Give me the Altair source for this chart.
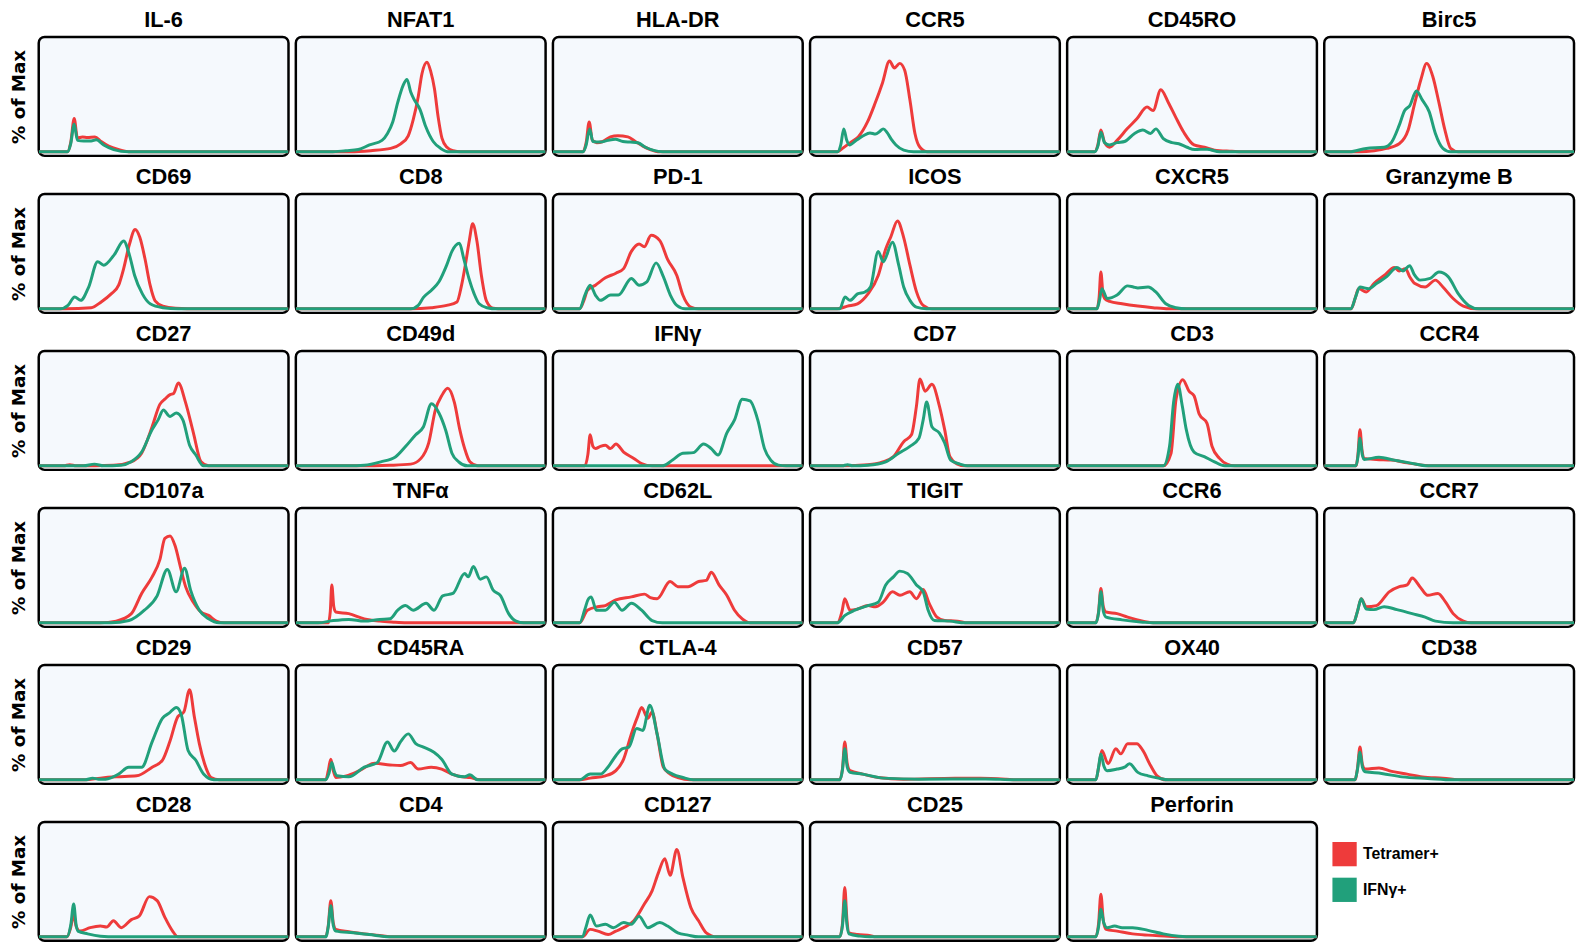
import altair as alt
import pandas as pd

MARKERS = ["IL-6", "NFAT1", "HLA-DR", "CCR5", "CD45RO", "Birc5",
           "CD69", "CD8", "PD-1", "ICOS", "CXCR5", "Granzyme B",
           "CD27", "CD49d", "IFNγ", "CD7", "CD3", "CCR4",
           "CD107a", "TNFα", "CD62L", "TIGIT", "CCR6", "CCR7",
           "CD29", "CD45RA", "CTLA-4", "CD57", "OX40", "CD38",
           "CD28", "CD4", "CD127", "CD25", "Perforin"]
SERIES = ["Tetramer+", "IFNγ+"]
COLORS = ["#EE3B3B", "#21A07B"]

# (x position in % of panel width, height in % of panel height above baseline)
IL6_TET = [(0,0),(11.5,0),(12.8,8),(14.2,29),(15.5,12),(17.5,13),(19.5,12.5),(22.5,13),(25,9),(28,5),(32,2),(37,0),(100,0)]
IL6_IFN = [(0,0),(11.5,0),(12.8,7),(14.2,24),(15.5,10),(18,9.5),(21,9.5),(23,10.5),(26,6),(30,2),(36,0),(100,0)]
NFAT1_TET = [(0,0),(22,0),(30,1),(38,3),(42,7),(45,14),(47,28),(49,48),(50.5,68),(52.5,78),(54,70),(55.5,55),(57,30),(58.5,12),(60.5,4),(63,1),(66,0),(100,0)]
NFAT1_IFN = [(0,0),(14,0),(20,1),(25,2),(29.5,6),(34.5,10),(36.7,16),(38.8,26),(40.8,43),(43,58),(44.5,63),(46,52),(47.5,45),(49.7,37),(52,22),(55,9),(58,3),(61.5,0),(100,0)]
HLADR_TET = [(0,0),(12,0),(13.3,8),(14.5,26),(15.8,10),(17.5,8),(20,9),(23,13),(26,14),(30,13),(33,9),(36,5),(39,2),(42,0),(100,0)]
HLADR_IFN = [(0,0),(12,0),(13.3,6),(14.7,20),(16,9),(19,8.5),(22,10),(25,11),(28,9),(31,8.5),(34,8),(37,4),(40,1.5),(44,0),(100,0)]
CCR5_TET = [(0,0),(11,0),(13,3),(16.4,8.5),(19.3,13),(23,26),(26,42),(29,60),(31.8,79),(33.8,73),(35.9,77),(37.9,71),(40,45),(42,16),(44,4),(47,0),(100,0)]
CCR5_IFN = [(0,0),(11,0),(12.3,6),(13.5,20),(14.7,10),(15.8,6),(18.5,10),(21.3,14),(24,16.5),(26.2,15.5),(28,18),(29.3,20),(30.8,17),(32.5,11),(34.4,6),(37.5,1.5),(41.5,0),(100,0)]
CD45RO_TET = [(0,0),(11,0),(12.3,6),(13.5,19),(15,8),(17,4),(20,10),(24,20),(28,29),(32,39),(34.4,36),(37.5,54),(40.5,43),(43.5,30),(46.7,17),(50.8,6),(55,4),(59,1.5),(66,0.5),(70,0),(100,0)]
CD45RO_IFN = [(0,0),(11,0),(12.3,5),(13.5,17),(15,8),(17,6),(20,8),(23,9),(27,16),(30.3,19),(33.4,16),(35.5,20),(38.5,11.5),(42,8),(44.7,7),(48,4),(51,2),(56,2.3),(61,0),(100,0)]
BIRC5_TET = [(0,0),(14,0),(20,1),(25,3),(30,7),(33.6,19),(36.3,43),(38.7,63),(41,77),(43.4,66),(45.9,43),(48.2,20),(50.6,3),(53.7,0),(100,0)]
BIRC5_IFN = [(0,0),(10,0),(16.8,3),(24,4),(27,8.5),(30,23),(32.2,36),(34.2,40),(36.9,53),(39.3,45),(42,35),(44.5,16),(47.5,3),(50.6,0),(100,0)]

CD69_TET = [(0,0),(10.7,0),(21,1),(25,6),(29,13),(32,20.6),(34,35),(36.3,56),(38.6,69),(40.5,62),(42.5,44),(44.6,20.6),(46.6,7),(49.7,2.4),(54.8,0.6),(64,0),(100,0)]
CD69_IFN = [(0,0),(8.6,0),(11.7,3),(14.4,10.3),(16.8,7.4),(20,19),(23.6,41),(26,38),(30.2,47),(34,59),(36.3,47),(38.4,29),(41.5,13),(44.6,4.4),(49.7,1),(55.8,0),(100,0)]
CD8_TET = [(0,0),(46,0),(54.2,1),(60.4,3),(64.5,6),(66.3,20),(68,40),(69.5,60),(70.8,74),(72.5,59),(74.3,29),(76.3,7),(79,0.6),(83,0),(100,0)]
CD8_IFN = [(0,0),(46,0),(49,3),(51.1,10),(54.2,16),(57.3,23.5),(60.4,38),(62.5,50),(65.5,57),(67.2,44),(69.3,26.5),(71.4,13),(73.4,4.4),(76.5,1),(80.5,0),(100,0)]
PD1_TET = [(0,0),(10.7,0),(12.5,8),(13.8,16),(17,20.6),(21,27),(25.2,31),(28.3,35),(31.4,50),(34.5,56.5),(36.6,54),(39.3,64),(42.8,59.4),(45.9,43),(49.6,29),(52,12),(55.2,1.5),(58.3,0),(100,0)]
PD1_IFN = [(0,0),(10.7,0),(12.8,12),(14.9,20.6),(17,12),(19,7.4),(23.1,12),(26.2,12),(31.4,26.5),(34.5,20.6),(37.6,23.5),(41.3,40),(44.2,28),(47,12),(49.6,3),(53,0),(100,0)]
ICOS_TET = [(0,0),(10.9,0),(15,2.4),(19,4.4),(23.2,13),(27.3,29),(30.3,52),(32.4,63),(35,76.5),(37.5,62),(40,38),(42.6,15),(45.3,3),(48.8,0),(100,0)]
ICOS_IFN = [(0,0),(11.9,0),(14,10.3),(16,7.4),(19,13),(22,14.7),(24.2,19),(27.3,50),(29.3,41),(33,58),(35.5,38),(37.5,19),(40,7.4),(42.6,1.5),(46.7,0),(100,0)]
CXCR5_TET = [(0,0),(11.9,0),(12.8,10),(13.5,32),(14.3,14),(15,9),(17,6.5),(22,4.4),(28.3,2.4),(34.4,1),(40.6,0),(100,0)]
CXCR5_IFN = [(0,0),(11.9,0),(13,8),(13.9,17.6),(16,9),(20,12),(24.2,20),(26.5,19),(28.3,18.2),(32.4,19),(35.5,14.7),(39.5,4.4),(43.6,1),(47.7,0),(100,0)]
GRZB_TET = [(0,0),(10.7,0),(12.5,10),(13.7,17.6),(16.8,14.7),(19.9,22),(24,29),(28.1,36),(30,33),(32.5,35),(34.2,28),(36.3,22),(40.4,19),(44.5,25),(47.5,19),(51.6,9),(55.7,2.4),(60.9,0),(100,0)]
GRZB_IFN = [(0,0),(10.7,0),(12.5,10),(14.3,19),(17.8,17.6),(20.9,22),(25,28),(29.1,36),(31.5,33),(34.2,37.6),(36,30),(38.3,25),(42.4,26.5),(45.9,32),(49.6,28),(53.7,13),(57.8,3),(61.9,0),(100,0)]

CD27_TET = [(0,0),(10,0),(12.4,1),(15,0),(30,0.5),(37,3.5),(41.2,11),(45.4,34),(48.5,53.5),(50.5,58),(52.6,62),(54,63),(55.9,72),(58.8,55),(61.9,29),(65,3.5),(68,0),(100,0)]
CD27_IFN = [(0,0),(18,0),(22.3,1.5),(26,0),(33,0.5),(37,3.5),(41.2,12),(45.4,31.5),(47.8,40),(49.9,48.5),(52.6,43),(55.1,46),(57.7,40),(60.4,18),(62.9,9.4),(66,0),(100,0)]
CD49D_TET = [(0,0),(25.4,0),(37.7,0.5),(46,1.5),(50.1,6.5),(53.2,20),(55.9,49),(58.4,61),(60.8,67.5),(63.5,55),(65.6,32),(67.6,15),(69.7,3.5),(72.8,0),(100,0)]
CD49D_IFN = [(0,0),(21.2,0),(27.4,0.5),(34,3.5),(40,8),(44,17),(48,27),(51.1,34),(54.3,54),(57.3,46),(60,31),(62.5,11),(65.2,3.5),(68.7,0),(100,0)]
IFNG_TET = [(0,0),(12.8,0),(14,10),(14.9,27),(16,17),(17,15),(19,17),(21,18),(23,15),(25.2,19),(28.3,12),(32.4,6.5),(35.5,2),(39.7,0),(100,0)]
IFNG_IFN = [(0,0),(43.8,0),(47.9,5),(52,11),(56.2,11.5),(60.3,19),(63.4,15),(66.1,9.4),(69.6,28.5),(72.7,40),(75.8,58),(78.9,56.5),(82,40),(84.7,15),(87.2,5),(90.3,0.6),(93.4,0),(100,0)]
CD7_TET = [(0,0),(12.9,0),(23.2,1),(29.1,3.5),(33.4,8),(37.5,21),(40.6,27),(42.6,52),(44,75.6),(46.1,65),(48.8,71),(51.8,52),(53.9,31.5),(56,8),(59,1.5),(62,0),(100,0)]
CD7_IFN = [(0,0),(12.9,0),(15,1),(17,0),(23.2,0.5),(30.3,3.5),(35.5,11),(40,17),(43.6,24),(45.3,40),(46.7,55.6),(48.8,34),(51.8,28.5),(53.9,20),(56.3,5),(60,1.5),(63,0),(100,0)]
CD3_TET = [(0,0),(38.5,0),(41.6,11),(43.6,58),(46.3,75),(48.8,65),(50.8,61),(52.9,45),(56,37),(58,17),(61,6.5),(64,1.5),(67,0),(100,0)]
CD3_IFN = [(0,0),(38.5,0),(41,17),(42.6,55),(44.3,71),(46.1,52),(47.7,31.5),(50.8,12),(54.9,8),(59,3.5),(63,0),(100,0)]
CCR4_TET = [(0,0),(12.7,0),(13.5,10),(14.3,31.5),(15.1,14),(15.8,6.5),(20.9,5.6),(27,5),(33.2,2.6),(39.3,0.6),(43.4,0),(100,0)]
CCR4_IFN = [(0,0),(12.7,0),(13.5,8),(14.3,24),(15.2,10),(16,5.6),(21.9,7.4),(28,5),(34.2,2.6),(41.4,0),(100,0)]

CD107A_TET = [(0,0),(24.7,0),(31,1.5),(37.1,8),(41.2,25.6),(45.4,40),(48.5,55),(50.5,73.5),(52.6,75.6),(54.6,67),(56.7,49),(58.8,31.5),(61.9,18),(65,9.4),(68,6.5),(71.1,1.5),(74.2,0),(100,0)]
CD107A_IFN = [(0,0),(28.9,0),(36.1,2),(42.3,11),(47.4,23.5),(51.5,46.5),(55,27),(58.4,47.6),(60.8,28.5),(64.3,11),(68,3.5),(72.2,0),(100,0)]
TNFA_TET = [(0,0),(13,0),(13.8,10),(14.4,33),(15.2,14),(16,9.4),(21.2,8),(27.4,3.5),(33.6,1.5),(39.8,0.6),(45,0),(100,0)]
TNFA_IFN = [(0,0),(8.9,0),(15,2),(21.2,3),(27.4,1.5),(33.6,3),(37.7,3.5),(40.8,11),(43.9,15),(47,11),(52.2,17),(55.3,11),(58.8,23.5),(62.9,25.6),(67.6,43),(69,40),(71.1,49),(73.8,38),(76.3,40),(79,28.5),(82,23.5),(85.2,8),(88.2,1.5),(91.3,0),(100,0)]
CD62L_TET = [(0,0),(10.7,0),(13.8,11),(17.9,14),(21,15),(25.2,20),(31.4,22.6),(36.6,25),(39,22),(41.7,21),(46.9,36),(50,31.5),(54.1,31.5),(58.3,36),(61.4,37),(63.4,44),(66.5,33),(69.6,24),(72.7,11),(75.8,3.5),(79,0),(100,0)]
CD62L_IFN = [(0,0),(10.7,0),(12.8,12),(14,20),(15.3,22.6),(17.4,11),(21,11),(24.6,18),(27.7,11),(31.4,17),(35.5,11),(39.7,2),(43.8,0),(100,0)]
TIGIT_TET = [(0,0),(10.9,0),(12.8,10),(13.9,21),(16,11),(19,12),(23.2,15),(26.2,14),(29.3,18),(33,27),(36,24),(39.9,27),(42.6,21),(45.3,29),(47.7,17),(50.8,5),(53.9,2),(59,1.5),(63,0),(100,0)]
TIGIT_IFN = [(0,0),(10.9,0),(14,6.5),(18,11),(23.2,15),(27.3,18),(30.3,33),(33.4,40),(35.9,45),(39,43),(42.6,33),(45.3,27),(47.3,11),(49.8,2),(56,1.5),(62,0),(100,0)]
CCR6_TET = [(0,0),(11.5,0),(12.6,10),(13.5,30),(14.5,14),(15.6,9.4),(20,8),(24.2,5),(30.3,1.5),(34.4,0),(100,0)]
CCR6_IFN = [(0,0),(11.5,0),(12.6,9),(13.5,27),(14.5,10),(15.6,5),(22,2.6),(30.3,0.6),(34.4,0),(100,0)]
CCR7_TET = [(0,0),(11.7,0),(13.3,10),(14.8,21),(16.8,14),(20.9,15),(26,27),(30.1,31.5),(33.2,33),(35.2,39),(38.3,31.5),(41.4,24),(45.5,25.6),(48.6,18),(51.6,8),(55.7,1.5),(58.8,0),(100,0)]
CCR7_IFN = [(0,0),(11.7,0),(13.3,10),(14.8,21),(16.8,12),(19.9,11.5),(24,14),(29.1,11.5),(35.2,8),(40.4,5),(44.5,1.5),(51.6,0),(100,0)]

CD29_TET = [(0,0),(18.6,0),(24.7,1.5),(31,2.6),(39.2,3.5),(45.4,11),(49.5,17),(52.6,34),(55.7,55),(58.1,59),(60.4,78.5),(62.3,55),(64.3,31.5),(66.4,14),(69,2),(72.2,0),(100,0)]
CD29_IFN = [(0,0),(18.6,0),(21.6,1.5),(24,0.5),(26.8,0.6),(32,5),(36,11),(41.2,11),(45.4,33),(49.5,53.5),(52.2,58),(55.1,63),(57.1,56.5),(59.8,25.6),(62.9,17),(66,5),(70.1,0),(100,0)]
CD45RA_TET = [(0,0),(12,0),(13,8),(14,18),(15,8),(16,2),(20.2,3.5),(25.4,8),(31.5,14.4),(37.7,13),(41.9,12.4),(46,15),(49,9.4),(54.2,11),(58.4,9.4),(62.5,5),(66.6,2.6),(69.7,2),(73.8,0),(100,0)]
CD45RA_IFN = [(0,0),(12,0),(13.3,6),(14.4,15),(15.5,7),(16.5,3.5),(21.2,2.6),(27.4,11),(32.6,15),(36.7,33),(39.4,25),(41.9,33),(45,40),(48,31.5),(51.1,28.5),(55.3,24),(58.4,18),(62.5,5),(67.6,2.6),(69.7,4.4),(72.8,0),(100,0)]
CTLA4_TET = [(0,0),(10.7,0),(14.9,1.5),(21,3.5),(25.2,8),(28.3,18),(31.4,40),(33.9,55),(35.5,63),(38,53.5),(39.7,59),(41.7,40),(44.2,11),(46.9,5),(50,2),(55.2,0),(100,0)]
CTLA4_IFN = [(0,0),(10.7,0),(14.9,5),(19,5),(22,11),(25.2,21),(27.7,27),(30.4,28.5),(33.5,44.7),(36,43),(38.8,65),(41.7,40),(44.8,9.4),(47.9,5),(52,2),(56.2,0),(100,0)]
CD57_TET = [(0,0),(11.9,0),(13,10),(13.9,33),(14.9,14),(16,8),(21.1,5),(27.3,2),(37.5,0.6),(58,1.5),(68.2,1.5),(78.5,0.6),(82.6,0),(100,0)]
CD57_IFN = [(0,0),(11.9,0),(13,9),(13.9,27),(14.9,11),(16,6.5),(21.1,5),(29.3,1.5),(43.6,0.6),(70.3,0.8),(82,0),(100,0)]
OX40_TET = [(0,0),(11.5,0),(12.7,12),(13.9,25.6),(16.4,14),(19.5,27),(21.5,22.6),(24.2,31.5),(27.9,31.5),(30.3,25.6),(33.4,12.4),(36,3.5),(39.5,0),(100,0)]
OX40_IFN = [(0,0),(11.5,0),(12.5,10),(13.5,22.6),(14.7,12),(16,8),(20,9.4),(23,11),(25,14),(28.3,6.5),(32.4,3.5),(36.5,1.5),(40.6,0),(100,0)]
CD38_TET = [(0,0),(12.3,0),(13.3,10),(14.3,28.5),(15.3,13),(16.4,9.4),(21.9,10.3),(27,7.4),(33.2,5),(39.3,2.6),(47.5,1.5),(55.7,0),(100,0)]
CD38_IFN = [(0,0),(12.3,0),(13.3,9),(14.3,24),(15.3,11),(16.4,7),(23,5.6),(31.1,2.6),(41.4,1.2),(51.6,0),(100,0)]

CD28_TET = [(0,0),(11.3,0),(12.8,8),(14,19.7),(15,9),(16.5,5),(20.6,8),(24.7,9.4),(27.2,8.5),(29.9,14),(33,8),(37.1,15),(40.2,18),(44.3,35),(47.4,31.5),(50.5,17),(53.6,5),(55.7,0),(100,0)]
CD28_IFN = [(0,0),(11.3,0),(12.8,10),(14,28.5),(15,10),(15.7,5),(19.6,2.6),(24.7,0.6),(30.9,0),(100,0)]
CD4_TET = [(0,0),(12,0),(13,10),(14,31.5),(15,12),(16,6.5),(21.2,4.4),(27.4,2.6),(33.6,1.2),(37.7,0),(100,0)]
CD4_IFN = [(0,0),(12,0),(13,9),(14,27),(15,10),(16,5),(23,3.5),(29.3,2),(37.7,0),(100,0)]
CD127_TET = [(0,0),(11.8,0),(14.9,6.5),(18,5),(22.1,2),(25.2,5),(28.3,8),(32.4,14),(36.6,28.5),(39.7,40),(42.1,55),(44.8,68),(46.9,53.5),(49.6,76),(52,52),(55.2,25.6),(58.3,14),(61.4,3.5),(65.5,0),(100,0)]
CD127_IFN = [(0,0),(11.8,0),(13.3,9),(14.9,19),(17.4,9.4),(21,11),(24.2,8),(28.3,12.4),(31.4,11),(34.5,18),(38,8),(42.8,12.4),(45.9,9.4),(50,3.5),(54.1,1.5),(58.3,0),(100,0)]
CD25_TET = [(0,0),(11.9,0),(13,12),(13.9,43),(14.8,14),(15.6,3.5),(19,2),(24.2,1),(26.2,0),(100,0)]
CD25_IFN = [(0,0),(11.9,0),(13,10),(13.9,31.5),(14.8,10),(15.6,2.6),(20,0.6),(24,0),(100,0)]
PERF_TET = [(0,0),(11.5,0),(12.6,12),(13.5,37),(14.5,14),(15.6,6.5),(20,5),(26.2,2.6),(32.4,1.5),(40.6,0.6),(44.7,0),(100,0)]
PERF_IFN = [(0,0),(11.5,0),(12.6,9),(13.5,24),(14.7,12),(16,8),(19,9.4),(22,8),(26.2,8),(32.4,5.6),(38.5,2.6),(44.7,0.6),(50.8,0),(100,0)]

CURVES = [
    (IL6_TET, IL6_IFN), (NFAT1_TET, NFAT1_IFN), (HLADR_TET, HLADR_IFN),
    (CCR5_TET, CCR5_IFN), (CD45RO_TET, CD45RO_IFN), (BIRC5_TET, BIRC5_IFN),
    (CD69_TET, CD69_IFN), (CD8_TET, CD8_IFN), (PD1_TET, PD1_IFN),
    (ICOS_TET, ICOS_IFN), (CXCR5_TET, CXCR5_IFN), (GRZB_TET, GRZB_IFN),
    (CD27_TET, CD27_IFN), (CD49D_TET, CD49D_IFN), (IFNG_TET, IFNG_IFN),
    (CD7_TET, CD7_IFN), (CD3_TET, CD3_IFN), (CCR4_TET, CCR4_IFN),
    (CD107A_TET, CD107A_IFN), (TNFA_TET, TNFA_IFN), (CD62L_TET, CD62L_IFN),
    (TIGIT_TET, TIGIT_IFN), (CCR6_TET, CCR6_IFN), (CCR7_TET, CCR7_IFN),
    (CD29_TET, CD29_IFN), (CD45RA_TET, CD45RA_IFN), (CTLA4_TET, CTLA4_IFN),
    (CD57_TET, CD57_IFN), (OX40_TET, OX40_IFN), (CD38_TET, CD38_IFN),
    (CD28_TET, CD28_IFN), (CD4_TET, CD4_IFN), (CD127_TET, CD127_IFN),
    (CD25_TET, CD25_IFN), (PERF_TET, PERF_IFN),
]

rows = []
for s_idx, s in enumerate(SERIES):
    for m, pair in zip(MARKERS, CURVES):
        for x, y in pair[s_idx]:
            rows.append({"marker": m, "series": s, "x": x, "y": y})
df = pd.DataFrame(rows)

color_scale = alt.Scale(domain=SERIES, range=COLORS)
x_enc = alt.X("x:Q", scale=alt.Scale(domain=[0, 100], nice=False, zero=False), axis=None)
y_enc = alt.Y("y:Q", scale=alt.Scale(domain=[-3.5, 100], nice=False, zero=False),
              axis=alt.Axis(title="% of Max", labels=False, ticks=False, domain=False, grid=False,
                            minExtent=0, titleFont="DejaVu Sans", titleFontSize=18.5,
                            titleFontWeight="bold", titleColor="black", titlePadding=8))

keys = alt.Chart().mark_square(opacity=0, filled=True, clip=True).encode(
    x=x_enc, y=y_enc,
    color=alt.Color("series:N", scale=color_scale, sort=SERIES,
                    legend=alt.Legend(title=None, orient="none", legendX=1305, legendY=812,
                                      symbolType="square", symbolSize=600, symbolOpacity=1,
                                      symbolStrokeWidth=0, labelFont="Liberation Sans",
                                      labelFontSize=16, labelFontWeight="bold", labelColor="black",
                                      labelOffset=6, rowPadding=11, padding=0)),
)
lines = alt.Chart().mark_line(strokeWidth=3, interpolate="monotone", clip=True).encode(
    x=x_enc, y=y_enc,
    color=alt.Color("series:N", scale=color_scale, sort=SERIES),
)

chart = alt.layer(keys, lines, data=df).properties(width=252, height=120).facet(
    facet=alt.Facet("marker:N", sort=MARKERS, title=None,
                    header=alt.Header(labelFont="Liberation Sans", labelFontSize=22,
                                      labelFontWeight="bold", labelColor="black",
                                      labelPadding=5)),
    columns=6,
    spacing={"row": 6.4, "column": 3.4},
).configure_view(
    stroke="black", strokeWidth=2.5, cornerRadius=6, fill="#F5F9FD"
).properties(padding={"top": -5, "left": 2, "right": 0, "bottom": 0}, background="white")

chart.save("out.html", embed_options={"renderer": "svg", "actions": False})
